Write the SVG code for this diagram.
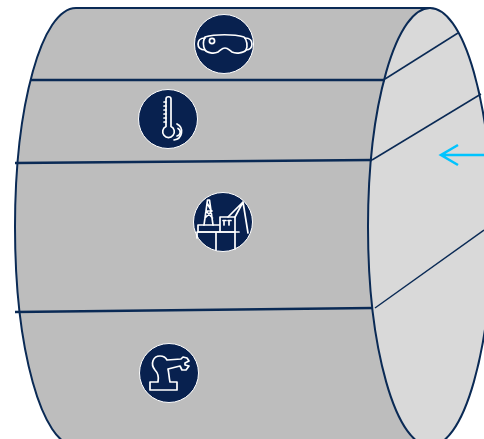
<svg xmlns="http://www.w3.org/2000/svg" width="484" height="439" viewBox="0 0 484 439">
<style>
.e{stroke:#0a2a55;stroke-width:2;}
.t{stroke:#0a2a55;stroke-width:2.5;fill:none}
.f{stroke:#0a2a55;stroke-width:1.5;fill:none}
.c{fill:#08214f;stroke:#fff;stroke-width:1}
.i{fill:none;stroke:#fff;stroke-width:1.7;stroke-linejoin:round;stroke-linecap:round}
</style>
<g id="cylinder">
<path class="e" fill="#bdbdbd" d="M430 8H76C42 8 15 105 15 227S42 446 76 446H430Z"/>
<ellipse class="e" cx="430" cy="227" rx="62" ry="219" fill="#d9d9d9"/>
</g>
<g id="connectors">
<path class="t" d="M31 80H385"/>
<path class="t" d="M15 163L372 160"/>
<path class="t" d="M15 312L373 308"/>
<path class="f" d="M385 79L458 33"/>
<path class="f" d="M372 160L481 94"/>
<path class="f" d="M375 308L484 230"/>
<path d="M484 155H442M458 145L441 155L458 165" fill="none" stroke="#00c4ff" stroke-width="2.6"/>
</g>
<g id="node-goggles">
<circle class="c" cx="224" cy="44" r="29.5"/>
<path class="i" d="M205 37C215 34 234 34 244 37C247 40 248 46 246 50C244 53 236 54 232 52C229 50 228 48 225 48C222 48 221 50 218 52C214 54 207 53 205 50C203 46 203 41 205 37Z"/>
<path class="i" d="M205 38C200 38 198 41 198 44C198 47 200 50 205 50M245 38C250 38 252 41 252 44C252 47 250 50 246 50"/>
<circle class="i" cx="212" cy="41" r="2.6"/>
</g>
<g id="node-thermometer">
<circle class="c" cx="168" cy="119" r="29.5"/>
<path class="i" d="M166 99C166 96 171 96 171 99V126.500A5.800 5.800 0 1 1 166 126.500Z"/>
<path class="i" d="M164 102H166M164 106H166M164 110H166M164 114H166M164 118H166M164 122H166"/>
<path class="i" d="M177 124A8.500 8.500 0 0 1 174 140"/>
<path class="i" d="M178 128.500A4 4 0 0 1 177 136"/>
</g>
<g id="node-rig">
<circle class="c" cx="223" cy="222" r="29.5"/>
<path class="i" d="M204 225L207.500 200H209.500L213 225M206 211H211M205 218L212 211M206 211L212.500 218M207 203L211 210"/>
<path class="i" d="M198 225H220V232H198ZM220 217H235V232H220Z"/>
<path class="i" d="M197 232H239M197 232V238M216 232V250M235 232V249M235 217L243 202M228 217L243 202M243 202L248 233"/>
<path class="i" d="M224 220.500V225M229 220.500V225M223 220.500H226M228 220.500H231"/>
</g>
<g id="node-robot">
<circle class="c" cx="169" cy="373" r="29.500"/>
<path class="i" d="M150 390V382H158C159 377 158 373 155 370C150 364 153 356 160 356C163 356 166 358 167 360L181 359L183 357L187 358L189 361L185 363L185 365L189 366L186 370L182 370L180 366L168 369C169 373 169 378 170 382H177V390Z"/>
</g>
</svg>
